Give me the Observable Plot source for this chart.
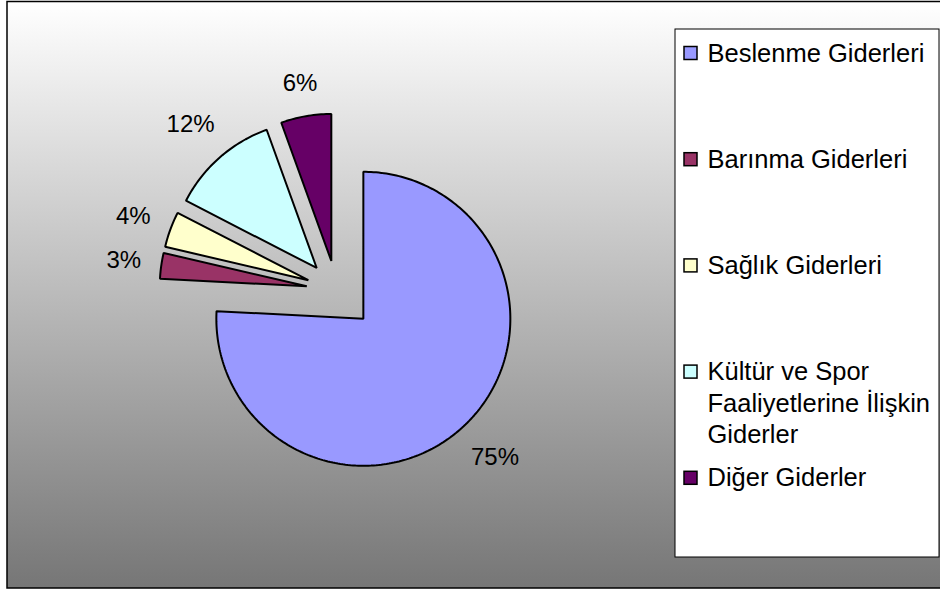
<!DOCTYPE html>
<html>
<head>
<meta charset="utf-8">
<script src="https://cdn.jsdelivr.net/npm/d3@7"></script>
<script src="https://cdn.jsdelivr.net/npm/@observablehq/plot@0.6"></script>
<style>
  html, body { margin: 0; padding: 0; background: #fff; }
  #chart svg { display: block; }
</style>
</head>
<body>
<div id="chart"></div>
<script>
// ---- data ----
const categories = [
  "Beslenme Giderleri",
  "Barınma Giderleri",
  "Sağlık Giderleri",
  "Kültür ve Spor Faaliyetlerine İlişkin Giderler",
  "Diğer Giderler"
];
const values = [75.45, 2.8, 3.9, 11.85, 5.5];
const colors = ["#9999FF", "#993366", "#FFFFCC", "#CCFFFF", "#660066"];

// ---- layout ----
const W = 940, H = 590;
const FONT = "'Liberation Sans', Arial, Helvetica, sans-serif";
const frame = {x1: 7, y1: 1.5, x2: 943, y2: 588};
const pie = {cx: 336, cy: 290, r: 147, gap: 19};
const explodeFor = i => (i === 0 ? 39 : 30);
const legend = {x1: 675, y1: 29, x2: 939, y2: 557, swX: 684, swSize: 13, textX: 707,
                firstY: 53, slot: 106.2, lineH: 31.5, fontSize: 25.5, maxW: 228};
const labelFont = 24;

const ctx = document.createElement("canvas").getContext("2d");
function textWidth(str, size) {
  ctx.font = `${size}px ${FONT}`;
  return ctx.measureText(str).width;
}

// ---- pie geometry ----
const total = d3.sum(values);
const slicePts = [];
const labels = [];
let acc = 0;
categories.forEach((name, i) => {
  const a0 = acc / total * 2 * Math.PI;
  acc += values[i];
  const a1 = acc / total * 2 * Math.PI;
  const mid = (a0 + a1) / 2;
  const dx = Math.sin(mid), dy = -Math.cos(mid);
  const ax = pie.cx + explodeFor(i) * dx, ay = pie.cy + explodeFor(i) * dy;
  slicePts.push({name, i, x: ax, y: ay});
  const n = Math.max(2, Math.ceil((a1 - a0) / (Math.PI / 180)) + 1);
  for (let k = 0; k < n; k++) {
    const a = a0 + (a1 - a0) * k / (n - 1);
    slicePts.push({name, i, x: ax + pie.r * Math.sin(a), y: ay - pie.r * Math.cos(a)});
  }
  const text = Math.round(values[i]) + "%";
  const hw = textWidth(text, labelFont) / 2, hh = 0.5 * labelFont;
  const dist = pie.r + pie.gap + Math.abs(dx) * hw + Math.abs(dy) * hh;
  labels.push({text, x: ax + dx * dist, y: ay + dy * dist});
});

// ---- legend wrapping ----
function wrap(str, maxW) {
  const words = str.split(" ");
  const lines = [];
  let cur = "";
  for (const w of words) {
    const t = cur ? cur + " " + w : w;
    if (cur && textWidth(t, legend.fontSize) > maxW) { lines.push(cur); cur = w; }
    else cur = t;
  }
  if (cur) lines.push(cur);
  return lines;
}
const legendItems = categories.map((name, i) => ({name, i, y: legend.firstY + i * legend.slot}));
const legendLines = [];
legendItems.forEach(d => {
  wrap(d.name, legend.maxW).forEach((line, k) => legendLines.push({text: line, y: d.y + k * legend.lineH}));
});

// ---- plot ----
const marks = [
  Plot.rect([0], {x1: frame.x1, x2: frame.x2, y1: frame.y1, y2: frame.y2,
    fill: "url(#bgGrad)", stroke: "black", strokeWidth: 1.5}),
  ...categories.map((name, i) =>
    Plot.line(slicePts.filter(p => p.i === i), {x: "x", y: "y", curve: "linear-closed",
      fill: colors[i], stroke: "black", strokeWidth: 2, strokeLinejoin: "miter"})),
  Plot.text(labels, {x: "x", y: "y", text: "text", fontSize: labelFont, fill: "black",
    textAnchor: "middle", lineAnchor: "middle"}),
  Plot.rect([0], {x1: legend.x1, x2: legend.x2, y1: legend.y1, y2: legend.y2,
    fill: "white", stroke: "black", strokeWidth: 1}),
  Plot.rect(legendItems, {x1: legend.swX, x2: legend.swX + legend.swSize,
    y1: d => d.y - legend.swSize / 2, y2: d => d.y + legend.swSize / 2,
    fill: d => colors[d.i], stroke: "black", strokeWidth: 1.5}),
  Plot.text(legendLines, {x: legend.textX, y: "y", text: "text", fontSize: legend.fontSize,
    fill: "black", textAnchor: "start", lineAnchor: "middle"})
];

const svg = Plot.plot({
  width: W, height: H, margin: 0,
  x: {domain: [0, W], range: [0, W], axis: null},
  y: {domain: [0, H], range: [0, H], axis: null},
  style: {fontFamily: FONT, background: "white", overflow: "hidden"},
  marks
});

// gradient definition for the chart area background
const ns = "http://www.w3.org/2000/svg";
const defs = document.createElementNS(ns, "defs");
const grad = document.createElementNS(ns, "linearGradient");
grad.setAttribute("id", "bgGrad");
grad.setAttribute("x1", "0"); grad.setAttribute("y1", "0");
grad.setAttribute("x2", "0"); grad.setAttribute("y2", "1");
[["0", "#ffffff"], ["1", "#767676"]].forEach(([o, c]) => {
  const s = document.createElementNS(ns, "stop");
  s.setAttribute("offset", o); s.setAttribute("stop-color", c);
  grad.appendChild(s);
});
defs.appendChild(grad);
svg.insertBefore(defs, svg.firstChild);

document.getElementById("chart").appendChild(svg);
</script>
</body>
</html>
